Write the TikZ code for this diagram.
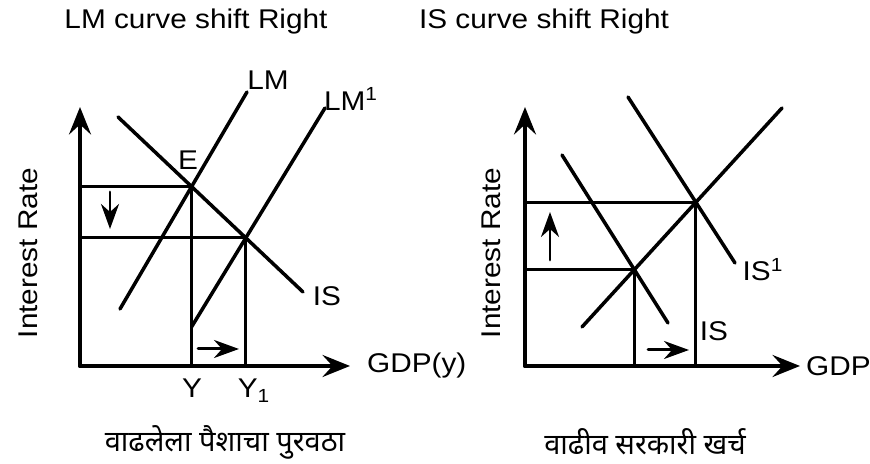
\documentclass[tikz,border=0pt]{standalone}
\usepackage{fontspec}
\setmainfont{Liberation Sans}[FakeStretch=1.1]
\newfontfamily\devfont{Noto Sans}[Script=Devanagari]
\usetikzlibrary{arrows.meta, positioning}

\begin{document}
\begin{tikzpicture}[>=Stealth, line cap=round,
        font=\fontsize{15.4}{18.5}\selectfont,
        axis/.style={line width=2.2pt, -{Stealth[length=5.5mm, width=4.4mm, inset=2mm]}},
        curve/.style={line width=2pt},
        guide/.style={line width=1.7pt},
        move/.style={line width=1.7pt, -{Stealth[length=5mm, width=3.6mm, inset=1.6mm]}},
        lbl/.style={inner sep=1pt}]
        \useasboundingbox (0,0) rectangle (17.4,9.28);

        % LM curve shift (left)
        \node (T1) at (3.92,8.84) {LM curve shift Right};
        \coordinate (O1) at (1.6,1.96);
        \coordinate (YA1) at (1.6,7.14);
        \coordinate (XA1) at (7.0,1.96);
        \draw[axis] (O1) -- (YA1);
        \draw[axis] (O1) -- (XA1);
        \node[rotate=90] (R1) at (0.56,4.22) {Interest Rate};
        \node[lbl, right=0.3cm of XA1] (G1) {GDP(y)};

        \coordinate (LMa) at (2.4,3.1);
        \coordinate (LMb) at (4.94,7.44);
        \coordinate (LMc) at (3.83,2.74);
        \coordinate (LMd) at (6.5,7.12);
        \coordinate (ISa) at (2.36,6.94);
        \coordinate (ISb) at (6.06,3.44);
        \coordinate (E) at (intersection of LMa--LMb and ISa--ISb);
        \coordinate (E1) at (intersection of LMc--LMd and ISa--ISb);
        \draw[guide] (E) -- (E -| O1) (E) -- (E |- O1);
        \draw[guide] (E1) -- (E1 -| O1) (E1) -- (E1 |- O1);
        \draw[curve] (LMa) -- (LMb);
        \draw[curve] (LMc) -- (LMd);
        \draw[curve] (ISa) -- (ISb);
        \draw[move] (2.2,5.44) -- (2.2,4.7);
        \draw[move] (3.96,2.3) -- (4.78,2.3);

        \node (LE) at (3.76,6.08) {E};
        \node (LLM) at (5.36,7.68) {LM};
        \node (LLM1) at (7.02,7.3) {LM\textsuperscript{1}};
        \node (LIS) at (6.54,3.36) {IS};
        \node[anchor=base] (LY) at (3.84,1.32) {Y};
        \node[anchor=base] (LY1) at (5.08,1.32) {Y\textsubscript{1}};
        \node (C1) at (4.5,0.44) {\fontsize{16.5}{19}\selectfont\devfont वाढलेला पैशाचा पुरवठा};

        % IS curve shift (right)
        \node (T2) at (10.88,8.84) {IS curve shift Right};
        \coordinate (O2) at (10.5,1.96);
        \coordinate (YA2) at (10.5,7.14);
        \coordinate (XA2) at (16.0,1.96);
        \draw[axis] (O2) -- (YA2);
        \draw[axis] (O2) -- (XA2);
        \node[rotate=90] (R2) at (9.82,4.22) {Interest Rate};
        \node[lbl, right=0.08cm of XA2] (G2) {GDP};

        \coordinate (LMe) at (11.64,2.74);
        \coordinate (LMf) at (15.64,7.12);
        \coordinate (ISc) at (11.24,6.18);
        \coordinate (ISd) at (13.36,2.82);
        \coordinate (ISe) at (12.56,7.34);
        \coordinate (ISf) at (14.7,4.02);
        \coordinate (F) at (intersection of LMe--LMf and ISc--ISd);
        \coordinate (F1) at (intersection of LMe--LMf and ISe--ISf);
        \draw[guide] (F) -- (F -| O2) (F) -- (F |- O2);
        \draw[guide] (F1) -- (F1 -| O2) (F1) -- (F1 |- O2);
        \draw[curve] (LMe) -- (LMf);
        \draw[curve] (ISc) -- (ISd);
        \draw[curve] (ISe) -- (ISf);
        \draw[move] (11.0,4.08) -- (11.0,5.04);
        \draw[move] (12.96,2.28) -- (13.78,2.28);

        \node (LIS1) at (15.26,3.88) {IS\textsuperscript{1}};
        \node (LIS2) at (14.28,2.66) {IS};
        \node (C2) at (12.9,0.44) {\fontsize{16.5}{19}\selectfont\devfont वाढीव सरकारी खर्च};
    \end{tikzpicture}
\end{document}
